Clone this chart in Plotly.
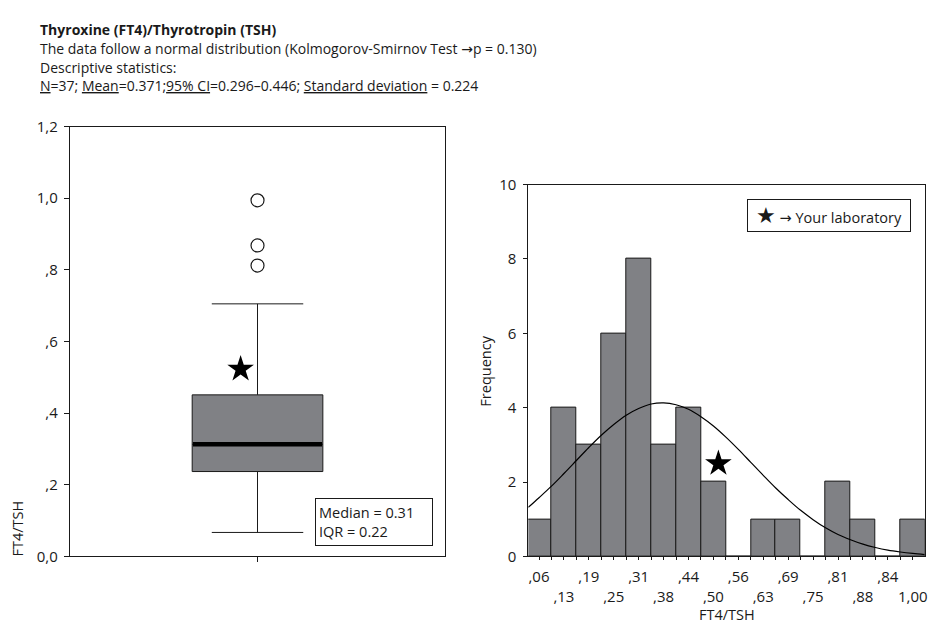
import plotly.graph_objects as go

# ---------------- data ----------------
ARROW = "<span style='font-family:DejaVu Sans'>\u2192</span>"
header_title = "Thyroxine (FT4)/Thyrotropin (TSH)"
header_line2 = "The data follow a normal distribution (Kolmogorov-Smirnov Test " + ARROW + "p = 0.130)"
header_line3 = "Descriptive statistics:"
header_line4 = ("<u>N</u>=37; <u>Mean</u>=0.371;<u>95% CI</u>=0.296\u20130.446; "
                "<u>Standard deviation</u> = 0.224")

# box plot statistics (FT4/TSH)
box_q1 = 0.237
box_median = 0.313
box_q3 = 0.451
box_lower_whisker = 0.067
box_upper_whisker = 0.705
box_outliers = [0.812, 0.868, 0.994]
lab_value = 0.523
box_note = "Median = 0.31<br>IQR = 0.22"

box_y_tickvals = [0.0, 0.2, 0.4, 0.6, 0.8, 1.0, 1.2]
box_y_ticktext = ["0,0", ",2", ",4", ",6", ",8", "1,0", "1,2"]

# histogram
hist_labels = [",06", ",13", ",19", ",25", ",31", ",38", ",44", ",50",
               ",56", ",63", ",69", ",75", ",81", ",88", ",84", "1,00"]
hist_counts = [1, 4, 3, 6, 8, 3, 4, 2, 0, 1, 1, 0, 2, 1, 0, 1]
hist_y_tickvals = [0, 2, 4, 6, 8, 10]

# fitted normal curve (x in bin units)
curve_x = [-0.43, 0, 0.5, 1, 1.5, 2, 2.5, 3, 3.5, 4, 4.5, 5, 5.5, 6, 6.5, 7, 7.5,
           8, 8.5, 9, 9.5, 10, 10.5, 11, 11.5, 12, 12.5, 13, 13.5, 14, 14.5, 15, 15.48]
curve_y = [1.32, 1.58, 1.89, 2.23, 2.58, 2.93, 3.26, 3.55, 3.80, 3.98, 4.10, 4.13,
           4.08, 3.96, 3.76, 3.51, 3.21, 2.88, 2.53, 2.18, 1.84, 1.53, 1.24, 0.99,
           0.77, 0.59, 0.45, 0.33, 0.24, 0.17, 0.12, 0.08, 0.05]
lab_hist_x = 7.2
lab_hist_y = 2.5

legend_text = "<span style='font-size:22px;font-family:DejaVu Sans'>\u2605</span> " + ARROW + " Your laboratory"

# ---------------- styling ----------------
W, H = 933, 631
FONT = "Open Sans"
GRAY = "#808185"
INK = "#1a1a1a"

def px_x(p):
    return p / W

def px_y(p):
    return 1 - p / H

box_center = 0.5
box_width = 0.348
star_offset = -0.045

fig = go.Figure()

# ---- left: box plot ----
fig.add_trace(go.Box(
    x=[box_center], q1=[box_q1], median=[box_median], q3=[box_q3],
    lowerfence=[box_lower_whisker], upperfence=[box_upper_whisker],
    width=box_width, whiskerwidth=0.7, fillcolor=GRAY,
    line=dict(color=INK, width=1), boxpoints=False, showlegend=False,
    hoverinfo="skip", xaxis="x", yaxis="y"))
fig.add_trace(go.Scatter(
    x=[box_center - box_width / 2 + 0.002, box_center + box_width / 2 - 0.002],
    y=[box_median, box_median], mode="lines",
    line=dict(color="black", width=4.5), showlegend=False, hoverinfo="skip",
    xaxis="x", yaxis="y"))
fig.add_trace(go.Scatter(
    x=[box_center] * len(box_outliers), y=box_outliers, mode="markers",
    marker=dict(symbol="circle", size=13, color="white",
                line=dict(color=INK, width=1.2)),
    showlegend=False, xaxis="x", yaxis="y"))
fig.add_trace(go.Scatter(
    x=[box_center + star_offset], y=[lab_value], mode="markers",
    marker=dict(symbol="star", size=20, color="black"),
    showlegend=False, xaxis="x", yaxis="y"))

# ---- right: histogram ----
fig.add_trace(go.Bar(
    x=list(range(len(hist_counts))), y=hist_counts, width=1,
    marker=dict(color=GRAY, line=dict(color=INK, width=1)),
    showlegend=False, xaxis="x2", yaxis="y2"))
fig.add_trace(go.Scatter(
    x=curve_x, y=curve_y, mode="lines", line=dict(color="black", width=1.2, shape="spline"),
    showlegend=False, xaxis="x2", yaxis="y2"))
fig.add_trace(go.Scatter(
    x=[lab_hist_x], y=[lab_hist_y], mode="markers",
    marker=dict(symbol="star", size=20, color="black"),
    showlegend=False, xaxis="x2", yaxis="y2"))
# invisible trace to activate the second-row tick axis
fig.add_trace(go.Scatter(x=[0], y=[0], mode="markers", marker=dict(opacity=0),
                         showlegend=False, hoverinfo="skip", xaxis="x3", yaxis="y2"))

axis_font = dict(family=FONT, size=15, color=INK)
line_common = dict(showline=True, linecolor=INK, linewidth=1, mirror=True,
                   showgrid=False, zeroline=False, tickfont=axis_font,
                   tickcolor=INK, tickwidth=1)

dom_y = [px_y(563.3), px_y(119.3)]
fig.update_layout(
    width=W, height=H, autosize=False,
    margin=dict(l=0, r=0, t=0, b=0),
    paper_bgcolor="white", plot_bgcolor="white",
    font=dict(family=FONT, size=14, color=INK),
    bargap=0,
    xaxis=dict(domain=[px_x(70), px_x(446.7)], range=[0, 1], anchor="y",
               tickvals=[box_center], ticktext=[""], ticks="outside", ticklen=5,
               **line_common),
    yaxis=dict(domain=dom_y, range=[0, 1.2], anchor="x",
               tickvals=box_y_tickvals, ticktext=box_y_ticktext,
               ticks="outside", ticklen=5, ticklabelstandoff=3, **line_common),
    xaxis2=dict(domain=[px_x(530), px_x(927.7)], range=[-0.43, 15.48], anchor="y2",
                tickvals=list(range(0, 16, 2)), ticktext=hist_labels[0::2],
                ticks="outside", ticklen=3, ticklabelstandoff=4,
                minor=dict(tickmode="linear", tick0=-0.5, dtick=0.5,
                           ticks="outside", ticklen=3, tickcolor=INK),
                **line_common),
    xaxis3=dict(overlaying="x2", range=[-0.43, 15.48], anchor="y2", side="bottom",
                tickvals=list(range(1, 16, 2)), ticktext=hist_labels[1::2],
                ticks="", showline=False, showgrid=False, zeroline=False,
                tickfont=axis_font, ticklabelstandoff=30),
    yaxis2=dict(domain=[px_y(563.3), px_y(179.3)], range=[0, 10], anchor="x2",
                tickvals=hist_y_tickvals, ticks="outside", ticklen=4,
                ticklabelstandoff=4, **line_common),
)

ann = []
hx = px_x(38)
ann.append(dict(text="<b>" + header_title + "</b>", x=hx, y=px_y(19.5)))
ann.append(dict(text=header_line2, x=hx, y=px_y(39)))
ann.append(dict(text=header_line3, x=hx, y=px_y(58)))
ann.append(dict(text=header_line4, x=hx, y=px_y(77)))
for a in ann:
    a.update(xref="paper", yref="paper", xanchor="left", yanchor="middle",
             showarrow=False, align="left", font=dict(family=FONT, size=14, color=INK))

ann.append(dict(text="FT4/TSH", x=px_x(17.5), y=px_y(534), xref="paper", yref="paper",
                textangle=-90, showarrow=False, xanchor="center", yanchor="middle",
                font=dict(family=FONT, size=14.5, color=INK)))
ann.append(dict(text="Frequency", x=px_x(487), y=px_y(372), xref="paper", yref="paper",
                textangle=-90, showarrow=False, xanchor="center", yanchor="middle",
                font=dict(family=FONT, size=14.5, color=INK)))
ann.append(dict(text="FT4/TSH", x=px_x(729), y=px_y(623), xref="paper", yref="paper",
                showarrow=False, xanchor="center", yanchor="middle",
                font=dict(family=FONT, size=14.5, color=INK)))
ann.append(dict(text=box_note, x=px_x(316), y=px_y(503), xref="paper", yref="paper",
                showarrow=False, xanchor="left", yanchor="top", align="left",
                bordercolor=INK, borderwidth=1, borderpad=3, bgcolor="white",
                width=110, height=40,
                font=dict(family=FONT, size=14.5, color=INK)))
ann.append(dict(text=legend_text, x=px_x(749.3), y=px_y(194.3), xref="paper", yref="paper",
                showarrow=False, xanchor="left", yanchor="top", align="center",
                bordercolor=INK, borderwidth=1, borderpad=2, bgcolor="white",
                width=158, height=27,
                font=dict(family=FONT, size=14.5, color=INK)))
fig.update_layout(annotations=ann)

fig.write_html("out.html", config={"displayModeBar": False},
               post_script="document.body.style.margin='0px';")
